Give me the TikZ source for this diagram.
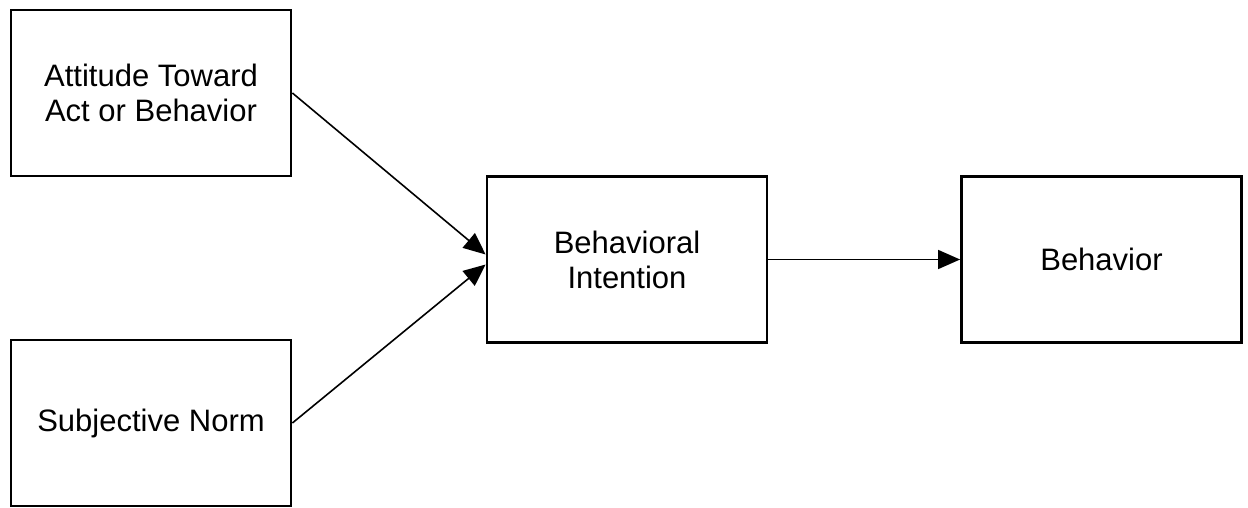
\documentclass[tikz,border=0pt]{standalone}
\usepackage{fontspec}
\setmainfont{Liberation Sans}
\usetikzlibrary{arrows.meta}

\tikzstyle{box} = [rectangle, draw, line width=1.4pt, text centered, align=center,
  minimum width=140pt, minimum height=83pt, inner sep=0pt,
  font=\fontsize{15.5}{17.5}\selectfont]
\tikzstyle{link} = [line width=0.8pt, -{Triangle[length=11pt,width=9.5pt]}]

\begin{document}
\begin{tikzpicture}[x=0.5pt, y=-0.5pt]
      \useasboundingbox (0,0) rectangle (1248,508);
      \node[box] (attitude) at (151,93) {Attitude Toward\\Act or Behavior};
      \node[box] (norm) at (151,423) {Subjective Norm};
      \node[box] (intention) at (627,259.5) {Behavioral\\Intention};
      \node[box] (behavior) at (1101.5,259.5) {Behavior};
      \draw[link] (attitude.east) -- ([yshift=2.5pt]intention.west);
      \draw[link] (norm.east) -- ([yshift=-2.5pt]intention.west);
      \draw[link] (intention.east) -- (behavior.west);
    \end{tikzpicture}
\end{document}
